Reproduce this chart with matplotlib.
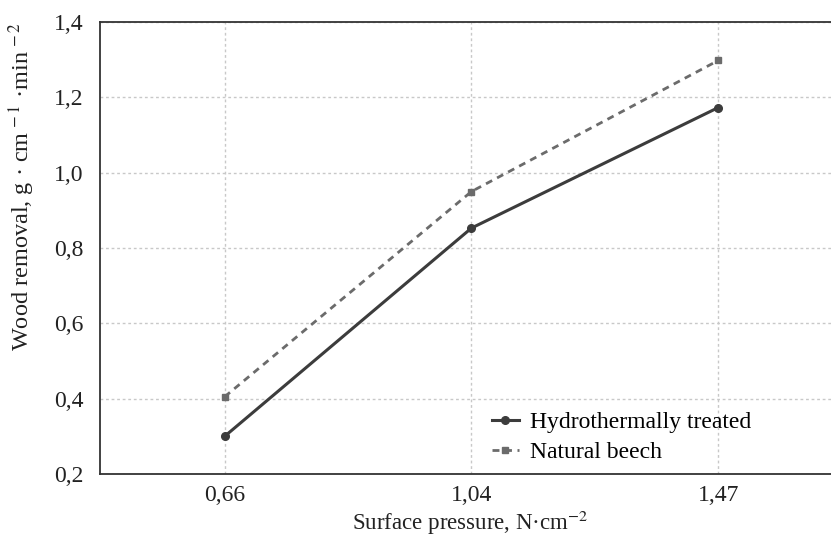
import matplotlib
matplotlib.use("Agg")
import matplotlib.pyplot as plt

# Data
pressure_labels = ["0,66", "1,04", "1,47"]
hydrothermal = [0.30, 0.853, 1.173]
natural_beech = [0.405, 0.95, 1.298]
y_ticks = [0.2, 0.4, 0.6, 0.8, 1.0, 1.2, 1.4]
y_tick_labels = ["0,2", "0,4", "0,6", "0,8", "1,0", "1,2", "1,4"]

plt.rcParams['font.family'] = ['Liberation Serif', 'DejaVu Serif']
plt.rcParams['mathtext.fontset'] = 'stix'

fig = plt.figure(figsize=(8.31, 5.37), dpi=100)
ax = fig.add_axes([0.1203, 0.1173, 0.8797 + 0.01, 0.8417])

x = list(range(len(pressure_labels)))
ax.plot(x, hydrothermal, color='#3c3c3c', lw=2.2, marker='o', markersize=5.5,
        label='Hydrothermally treated')
ax.plot(x, natural_beech, color='#6b6b6b', lw=2.0, ls=(0, (2.5, 2)), marker='s',
        markersize=5, label='Natural beech')

ax.set_xlim(-0.505, 2.49)
ax.set_ylim(0.2, 1.4)
ax.set_xticks(x)
ax.set_xticklabels(pressure_labels)
ax.set_yticks(y_ticks)
ax.set_yticklabels(y_tick_labels)
ax.tick_params(axis='both', length=0, labelsize=17, colors='#222222')
ax.tick_params(axis='x', pad=8)
ax.tick_params(axis='y', pad=12)

ax.grid(True, color='#c8c8c8', ls=(0, (2, 2)), lw=1.0)
ax.set_axisbelow(True)
for side in ['left', 'bottom', 'top']:
    ax.spines[side].set_color('#333333')
    ax.spines[side].set_linewidth(1.3)
ax.spines['right'].set_visible(False)

ax.set_xlabel('Surface pressure, N·cm$^{-2}$', fontsize=16.5, color='#222222', labelpad=2)
ax.set_ylabel('Wood removal, g · cm$^{\\,-1}$ ·min$^{\\,-2}$', fontsize=17.5, color='#222222')
ax.yaxis.set_label_coords(-0.085, 0.635)

ax.legend(loc='upper left', bbox_to_anchor=(0.514, 0.165), frameon=False, fontsize=17,
          handlelength=1.15, handletextpad=0.45, labelspacing=0.38, borderpad=0)

fig.savefig('out.png', dpi=100)
